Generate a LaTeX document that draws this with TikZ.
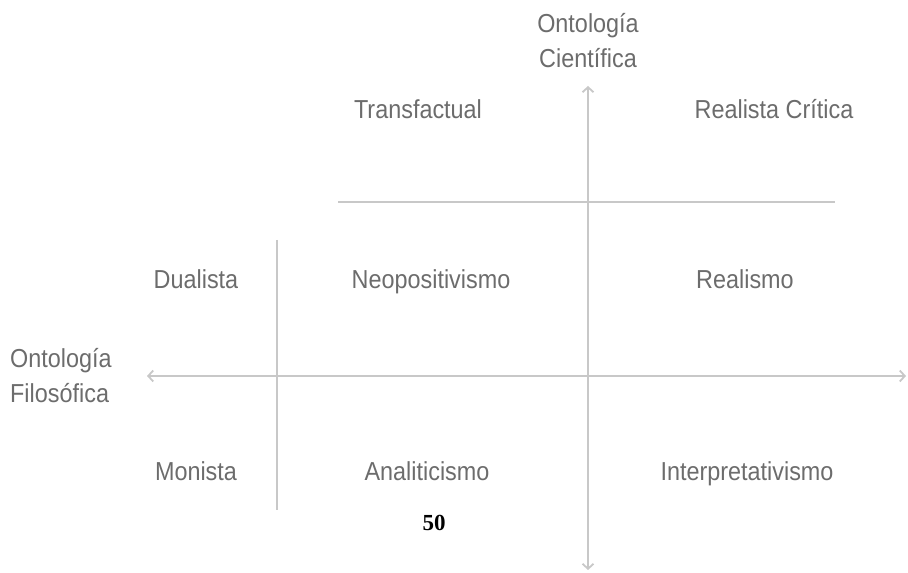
\documentclass[tikz,border=0pt]{standalone}
\usepackage{fontspec}
\setmainfont{Liberation Sans}[FakeStretch=0.9]
\newfontfamily\numfont{Liberation Serif}
\usepackage{xcolor}
\usetikzlibrary{arrows.meta, positioning}
\definecolor{labelgray}{HTML}{6C6C6C}
\definecolor{linegray}{HTML}{C8C8C8}

\begin{document}
\begin{tikzpicture}[
    x=1pt, y=1pt,
    lbl/.style={anchor=base, text=labelgray, font=\fontsize{26}{35}\selectfont, inner sep=0pt},
    axis/.style={{Straight Barb[length=5pt,width=11pt]}-{Straight Barb[length=5pt,width=11pt]}, linegray, line width=1.8pt},
    divider/.style={linegray, line width=1.8pt}
]
\useasboundingbox (0,0) rectangle (908,573);

% axis ends
\coordinate (vtop) at (588,487);
\coordinate (vbot) at (588,3);
\coordinate (hleft) at (147,197);
\coordinate (hright) at (906,197);
\coordinate (dleft) at (338,371);
\coordinate (dright) at (835,371);
\coordinate (ltop) at (277,333);
\coordinate (lbot) at (277,63);

\draw[axis] (vbot) -- (vtop);
\draw[axis] (hleft) -- (hright);
\draw[divider] (dleft) -- (dright);
\draw[divider] (ltop) -- (lbot);

% axis titles (base = last line)
\node[lbl, align=center, anchor=base] (ciencia) at (588,505) {Ontología\\Científica};
\node[lbl, align=left, anchor=base west] (filosofia) at (10,170) {Ontología\\Filosófica};

% top row
\node[lbl] (trans) at (418,454) {Transfactual};
\node[lbl] (critica) at (774,454) {Realista Crítica};

% middle row
\node[lbl] (dual) at (196,284) {Dualista};
\node[lbl] (neo) at (431,284) {Neopositivismo};
\node[lbl] (real) at (745,284) {Realismo};

% bottom row
\node[lbl] (mon) at (196,92) {Monista};
\node[lbl] (anal) at (427,92) {Analiticismo};
\node[lbl] (interp) at (747,92) {Interpretativismo};

% page number
\node[anchor=base, inner sep=0pt, font=\numfont\bfseries\fontsize{23}{26}\selectfont] (pagina) at (434,42) {50};

\end{tikzpicture}
\end{document}
